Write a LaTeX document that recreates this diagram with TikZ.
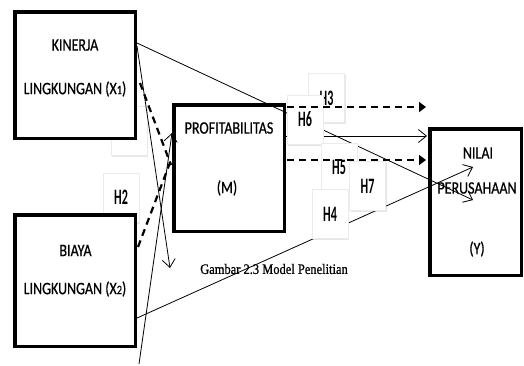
\documentclass[tikz,border=0pt]{standalone}
\usepackage{fontspec}
\setmainfont{Carlito}
\newfontfamily\boxfont{Carlito}[FakeStretch=0.8,FakeBold=0.6]
\newfontfamily\hfont{Carlito}[FakeStretch=0.55]
\newfontfamily\capfont{Liberation Serif}[FakeStretch=0.86,FakeBold=0.8]
\usetikzlibrary{arrows.meta,shadows}
\tikzset{
  mainbox/.style={draw, line width=3.5pt, inner sep=0pt, outer sep=0pt},
  whitebox/.style={mainbox, fill=white},
  hbox/.style={fill=white, draw=black!8, line width=0.4pt, inner sep=0pt, outer sep=0pt,
    minimum width=36pt, minimum height=49pt,
    font=\hfont\bfseries\fontsize{22}{22}\selectfont,
    drop shadow={shadow xshift=1.2pt, shadow yshift=-1.6pt, opacity=0.2}},
  boxtext/.style={font=\boxfont\fontsize{17.5}{17.5}\selectfont, inner sep=0pt},
  thinline/.style={line width=0.8pt},
  openarrow/.style={thinline, -{Straight Barb[length=8pt,width=13pt,line width=0.8pt]}},
  dasharrow/.style={line width=2.6pt, dash pattern=on 7pt off 5pt, -{Triangle[length=7pt,width=10pt]}},
  dashline/.style={line width=2.2pt, dash pattern=on 7pt off 5pt}
}
\begin{document}
\begin{tikzpicture}[x=1pt,y=-1pt]
\useasboundingbox (0,0) rectangle (524,365);
% hidden hypothesis boxes behind X1 / X2
\node[hbox] (h1) at (129,130.5) {};
\node[hbox] (h2) at (121,197.5) {H2};
% main boxes
\node[whitebox, minimum width=120.5pt, minimum height=126.5pt] (x1) at (75,75) {};
\node[whitebox, minimum width=120.5pt, minimum height=131.5pt] (x2) at (75,280.5) {};
\node[mainbox, minimum width=110.5pt, minimum height=126.5pt] (m) at (229,168) {};
\node[mainbox, minimum width=91.5pt, minimum height=146.5pt] (y) at (475.5,202) {};
% endpoints
\coordinate (a1) at (137,43);   \coordinate (a1e) at (473,200);
\coordinate (a2) at (137,318);  \coordinate (a2e) at (473,167);
\coordinate (b1) at (137,46);   \coordinate (b1e) at (170,268);
\coordinate (b2) at (139,364);  \coordinate (b2e) at (172,133);
\coordinate (c1) at (286,136);  \coordinate (c1e) at (427,136);
\coordinate (d1) at (287,107);  \coordinate (d1e) at (426,107);
\coordinate (d2) at (287,160);  \coordinate (d2e) at (426,160);
\coordinate (e1) at (140,83);   \coordinate (e1e) at (171,165);
\coordinate (e2) at (138,247);  \coordinate (e2e) at (171,160);
% thin connectors
\draw[openarrow] (a1) -- (a1e);
\draw[openarrow] (a2) -- (a2e);
\draw[openarrow] (b1) -- (b1e);
\draw[openarrow] (b2) -- (b2e);
\draw[openarrow] (c1) -- (c1e);
% hypothesis boxes
\node[hbox] (h3) at (326.5,98) {H3};
\node[hbox] (h6) at (305,119.5) {H6};
\node[hbox] (h5) at (339,167.5) {H5};
\node[hbox] (h4) at (330,214) {H4};
\node[hbox] (h7) at (367.5,186) {H7};
% dashed connectors
\draw[dasharrow] (d1) -- (d1e);
\draw[dasharrow] (d2) -- (d2e);
\draw[dashline] (e1) -- (e1e);
\draw[dashline] (e2) -- (e2e);
% box texts
\node[boxtext] (t1) at (75,45) {KINERJA};
\node[boxtext] (t2) at (75,89) {LINGKUNGAN (X{\fontsize{13}{13}\selectfont 1})};
\node[boxtext] (t3) at (75.5,250.5) {BIAYA};
\node[boxtext] (t4) at (75,289) {LINGKUNGAN (X{\fontsize{13}{13}\selectfont 2})};
\node[boxtext] (t5) at (229,128) {PROFITABILITAS};
\node[boxtext] (t6) at (227,188) {(M)};
\node[boxtext] (t7) at (478,153) {NILAI};
\node[boxtext] (t8) at (477,188) {PERUSAHAAN};
\node[boxtext] (t9) at (477,249) {(Y)};
\node[font=\capfont\fontsize{14.5}{14.5}\selectfont, inner sep=0pt] (cap) at (274,269) {Gambar 2.3 Model Penelitian};
\end{tikzpicture}
\end{document}
